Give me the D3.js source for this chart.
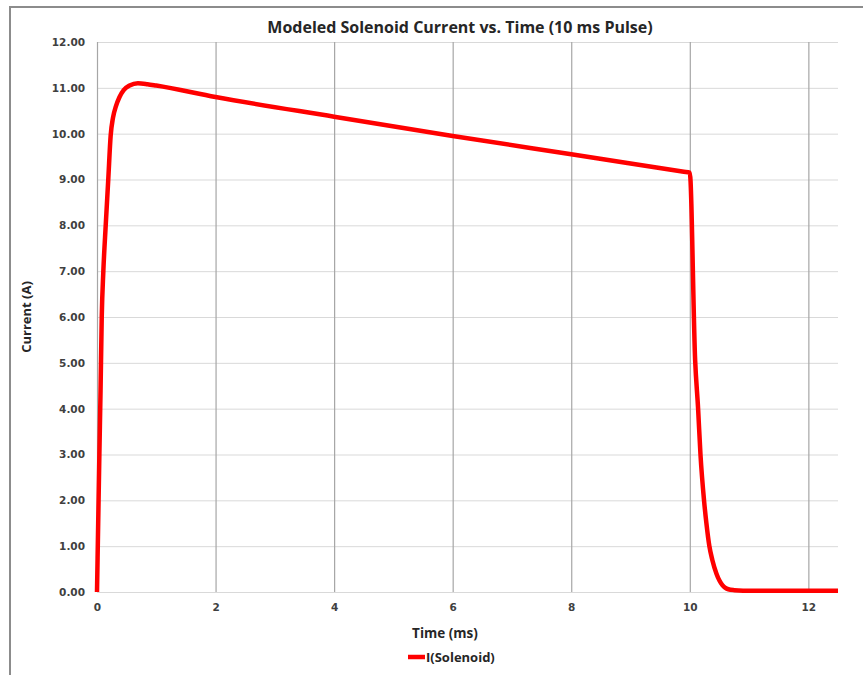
<!DOCTYPE html>
<html>
<head>
<meta charset="utf-8">
<script src="https://cdn.jsdelivr.net/npm/d3@7"></script>
<style>
  body { margin: 0; background: #fff; }
  svg { display: block; }
</style>
</head>
<body>
<div id="chart"></div>
<script>
// values
const timeMs = [0, 0.02, 0.04, 0.06, 0.08, 0.107, 0.147, 0.19, 0.23, 0.27, 0.32, 0.38, 0.45, 0.55,
  0.69, 0.85, 1.0, 2, 4, 6, 8, 9.9, 10, 10.09, 10.14, 10.18, 10.24, 10.28, 10.33, 10.38, 10.45,
  10.5, 10.55, 10.6, 10.65, 10.75, 10.9, 12.5]
const current = [0, 1.5, 3.0, 4.4, 6.0, 7.0, 8.0, 9.0, 9.95, 10.35, 10.6, 10.8, 10.95, 11.05,
  11.1, 11.08, 11.05, 10.8, 10.37, 9.95, 9.55, 9.17, 9.15, 5.06, 4.0, 3.0, 2.0, 1.5, 1.0, 0.7, 0.4,
  0.25, 0.15, 0.09, 0.06, 0.04, 0.03, 0.03]
const xTicks = [0, 2, 4, 6, 8, 10, 12]
const yTicks = [0, 1, 2, 3, 4, 5, 6, 7, 8, 9, 10, 11, 12]

const data = timeMs.map((t, i) => ({t: t, v: current[i]}))

const W = 863, H = 675
const margin = {top: 42, right: 25, bottom: 83, left: 97},
    width = W - margin.left - margin.right,
    height = H - margin.top - margin.bottom

const svg = d3.select("#chart")
  .append("svg")
    .attr("width", W)
    .attr("height", H)

// outer chart border
svg.append("rect")
  .attr("x", 10).attr("y", 7)
  .attr("width", W + 20).attr("height", H + 20)
  .attr("fill", "none")
  .attr("stroke", "#8c8c8c")
  .attr("stroke-width", 2)

const g = svg.append("g")
  .attr("transform", `translate(${margin.left}, ${margin.top})`)

const x = d3.scaleLinear().domain([0, 12.5]).range([0, width])
const y = d3.scaleLinear().domain([0, 12]).range([height, 0])

// horizontal gridlines
g.append("g")
  .call(d3.axisLeft(y).tickValues(yTicks).tickSize(-width).tickFormat(d => d.toFixed(2)).tickPadding(12))
  .call(a => a.select(".domain").remove())
  .call(a => a.selectAll(".tick line").attr("stroke", "#d9d9d9").attr("stroke-width", 1))
  .call(a => a.selectAll(".tick text")
    .style("font-family", "'DejaVu Sans', sans-serif")
    .style("font-size", "10.5px").style("font-weight", "bold").attr("fill", "#404040"))

// vertical gridlines
g.append("g")
  .attr("transform", `translate(0, ${height})`)
  .call(d3.axisBottom(x).tickValues(xTicks).tickSize(-height).tickPadding(12))
  .call(a => a.select(".domain").remove())
  .call(a => a.selectAll(".tick line").attr("stroke", "#a6a6a6").attr("stroke-width", 1.2))
  .call(a => a.selectAll(".tick text")
    .style("font-family", "'DejaVu Sans', sans-serif")
    .style("font-size", "10.5px").style("font-weight", "bold").attr("fill", "#404040"))

// the current line
g.append("path")
  .datum(data)
  .attr("d", d3.line()
    .curve(d3.curveMonotoneX)
    .x(d => x(d.t))
    .y(d => y(d.v)))
  .attr("fill", "none")
  .attr("stroke", "#ff0000")
  .attr("stroke-width", 4.5)
  .attr("stroke-linejoin", "round")

// title
svg.append("text")
  .attr("x", 460).attr("y", 33)
  .attr("text-anchor", "middle")
  .style("font-family", "'Open Sans', sans-serif")
  .style("font-size", "16px").style("font-weight", "bold")
  .attr("fill", "#262626")
  .text("Modeled Solenoid Current vs. Time (10 ms Pulse)")

// x axis label
svg.append("text")
  .attr("x", 445).attr("y", 638)
  .attr("text-anchor", "middle")
  .style("font-family", "'Open Sans', sans-serif")
  .style("font-size", "13.5px").style("font-weight", "bold")
  .attr("fill", "#262626")
  .text("Time (ms)")

// y axis label
svg.append("text")
  .attr("transform", "translate(31, 317) rotate(-90)")
  .attr("text-anchor", "middle")
  .style("font-family", "'Open Sans', sans-serif")
  .style("font-size", "13px").style("font-weight", "bold")
  .attr("fill", "#262626")
  .text("Current (A)")

// legend
svg.append("line")
  .attr("x1", 408).attr("x2", 425)
  .attr("y1", 657).attr("y2", 657)
  .attr("stroke", "#ff0000").attr("stroke-width", 4.5)
svg.append("text")
  .attr("x", 426).attr("y", 662)
  .style("font-family", "'Open Sans', sans-serif")
  .style("font-size", "13px").style("font-weight", "bold")
  .attr("fill", "#262626")
  .text("I(Solenoid)")
</script>
</body>
</html>
